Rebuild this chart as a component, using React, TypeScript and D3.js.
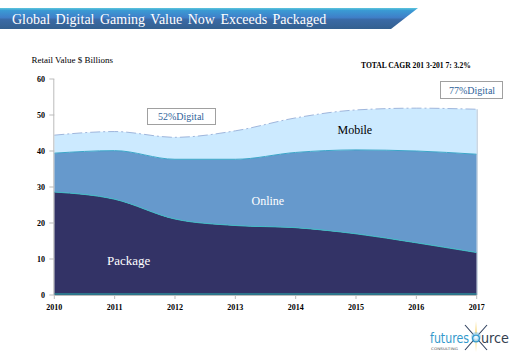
import React from 'react'
import * as d3 from 'd3'

const years = [2010, 2011, 2012, 2013, 2014, 2015, 2016, 2017]
const seriesNames = ['Package', 'Online', 'Mobile']
// retail value, $ billions
const packageValues = [28.6, 26.6, 21.1, 19.3, 18.7, 17.0, 14.5, 11.8]
const onlineValues = [10.8, 13.5, 16.6, 18.4, 20.9, 23.3, 25.5, 27.3]
const mobileValues = [5.0, 5.3, 6.1, 7.9, 9.6, 11.1, 11.9, 12.5]
const yTicks = [0, 10, 20, 30, 40, 50, 60]

const W = 522
const H = 361
const serif = '"Liberation Serif", "Times New Roman", serif'
const sans = '"DejaVu Sans", sans-serif'

export default function App() {
  const x = d3.scaleLinear().domain([2010, 2017]).range([54.3, 476.7])
  const y = d3.scaleLinear().domain([0, 60]).range([295, 79])

  const rows = years.map((yr, i) => ({
    year: yr,
    Package: packageValues[i],
    Online: onlineValues[i],
    Mobile: mobileValues[i],
  }))
  const stacked = d3.stack<any>().keys(seriesNames)(rows)

  const area = d3
    .area<any>()
    .x((d) => x(d.data.year))
    .y0((d) => y(d[0]))
    .y1((d) => y(d[1]))
    .curve(d3.curveMonotoneX)
  const topLine = d3
    .line<any>()
    .x((d) => x(d.data.year))
    .y((d) => y(d[1]))
    .curve(d3.curveMonotoneX)

  const fills = ['#333366', '#6699cc', '#cceaff']
  const edges = ['#3fbcc4', '#3aa6c8', '#9fb6dc']

  // logo star centre
  const sx = 476
  const sy = 337

  return (
    <div style={{position: 'absolute', left: 0, top: 0}}>
      <svg width={W} height={H} style={{display: 'block', background: '#fff'}}>
        <defs>
          <linearGradient id="banner" x1="0" y1="0" x2="0" y2="1">
            <stop offset="0" stopColor="#5cc6dc" />
            <stop offset="0.12" stopColor="#3a9ad4" />
            <stop offset="0.45" stopColor="#3f7fc8" />
            <stop offset="0.55" stopColor="#3a6aa6" />
            <stop offset="1" stopColor="#33608f" />
          </linearGradient>
          <radialGradient id="glow">
            <stop offset="0" stopColor="#ffffff" />
            <stop offset="0.5" stopColor="#bfe3f6" />
            <stop offset="1" stopColor="#3399cc" stopOpacity="0" />
          </radialGradient>
          <linearGradient id="ray" x1="0" y1="0" x2="0" y2="1">
            <stop offset="0" stopColor="#f2c12e" stopOpacity="0" />
            <stop offset="0.45" stopColor="#f2c12e" />
            <stop offset="1" stopColor="#f2c12e" stopOpacity="0" />
          </linearGradient>
        </defs>

        {/* title banner */}
        <path d="M0,8 L418,8 L391,29 L0,29 Z" fill="url(#banner)" />
        <text x={12} y={24} fill="#fff" fontFamily={serif} fontSize={14} wordSpacing={2}>
          Global Digital Gaming Value Now Exceeds Packaged
        </text>

        <text x={31.5} y={63} fontFamily={serif} fontSize={9} fill="#000">
          Retail Value $ Billions
        </text>
        <text x={361} y={68} fontFamily={serif} fontSize={7.6} fontWeight="bold" fill="#000">
          TOTAL CAGR 201 3-201 7: 3.2%
        </text>

        {/* stacked areas */}
        {stacked.map((s, i) => (
          <path key={s.key} d={area(s) || ''} fill={fills[i]} />
        ))}
        {stacked.map((s, i) => (
          <path
            key={s.key + '-edge'}
            d={topLine(s) || ''}
            fill="none"
            stroke={edges[i]}
            strokeWidth={1}
            strokeDasharray={i === 2 ? '10,3,2,3' : undefined}
          />
        ))}
        <line x1={x(2010)} x2={x(2017)} y1={y(0) - 1} y2={y(0) - 1} stroke="#2e8d98" strokeWidth={1.5} />
        <line
          x1={x(2017) + 0.5}
          x2={x(2017) + 0.5}
          y1={y(packageValues[7] + onlineValues[7] + mobileValues[7])}
          y2={y(0)}
          stroke="#b5c6d6"
          strokeWidth={1}
        />

        {/* y axis */}
        <line x1={x(2010) - 0.5} x2={x(2010) - 0.5} y1={y(60)} y2={y(0)} stroke="#bbbbbb" />
        {yTicks.map((t) => (
          <g key={t}>
            <line x1={x(2010) - 5} x2={x(2010)} y1={y(t)} y2={y(t)} stroke="#bbbbbb" />
            <text
              x={45}
              y={y(t) + 3}
              textAnchor="end"
              fontFamily={serif}
              fontSize={8}
              fontWeight="bold"
              fill="#000"
            >
              {t}
            </text>
          </g>
        ))}

        {/* x axis */}
        <line x1={x(2010)} x2={x(2017)} y1={y(0) + 0.5} y2={y(0) + 0.5} stroke="#bbbbbb" />
        {years.map((yr) => (
          <g key={yr}>
            <line x1={x(yr)} x2={x(yr)} y1={y(0)} y2={y(0) + 4} stroke="#bbbbbb" />
            <text
              x={x(yr)}
              y={310}
              textAnchor="middle"
              fontFamily={serif}
              fontSize={8}
              fontWeight="bold"
              fill="#000"
            >
              {yr}
            </text>
          </g>
        ))}

        {/* series labels */}
        <text x={107} y={265} fill="#fff" fontFamily={serif} fontSize={13}>
          {seriesNames[0]}
        </text>
        <text x={251.5} y={205} fill="#fff" fontFamily={serif} fontSize={12}>
          {seriesNames[1]}
        </text>
        <text x={337.5} y={134} fill="#000" fontFamily={serif} fontSize={12}>
          {seriesNames[2]}
        </text>

        {/* digital share callouts */}
        <rect x={147.5} y={108.5} width={68} height={16} fill="#fff" stroke="#a0a0a0" />
        <text x={158} y={120} fill="#2f5f99" fontFamily={serif} fontSize={10}>
          52%Digital
        </text>
        <rect x={440.5} y={81.5} width={62} height={17} fill="#fff" stroke="#a0a0a0" />
        <text x={449} y={94} fill="#2f5f99" fontFamily={serif} fontSize={10}>
          77%Digital
        </text>

        {/* logo */}
        <g>
          <line x1={sx - 11} y1={sy - 12} x2={sx + 11} y2={sy + 13} stroke="#2c3e5c" strokeWidth={1.1} />
          <line x1={sx + 11} y1={sy - 12} x2={sx - 11} y2={sy + 13} stroke="#2c3e5c" strokeWidth={1.1} />
          <rect x={sx - 0.6} y={sy - 16} width={1.2} height={31} fill="url(#ray)" />
          <circle cx={sx} cy={sy} r={5.5} fill="url(#glow)" />
          <text x={430} y={343} textLength={39} lengthAdjust="spacingAndGlyphs" fill="#3399cc" fontFamily={sans} fontSize={14}>
            futures
          </text>
          <circle cx={sx} cy={sy + 1.5} r={3.4} fill="none" stroke="#3399cc" strokeWidth={1.3} />
          <text x={481} y={343} textLength={28} lengthAdjust="spacingAndGlyphs" fill="#33414f" fontFamily={sans} fontSize={14}>
            urce
          </text>
          <text x={431} y={350} textLength={27} lengthAdjust="spacingAndGlyphs" fill="#555" fontFamily={sans} fontSize={3.5}>
            CONSULTING
          </text>
        </g>
      </svg>
    </div>
  )
}
